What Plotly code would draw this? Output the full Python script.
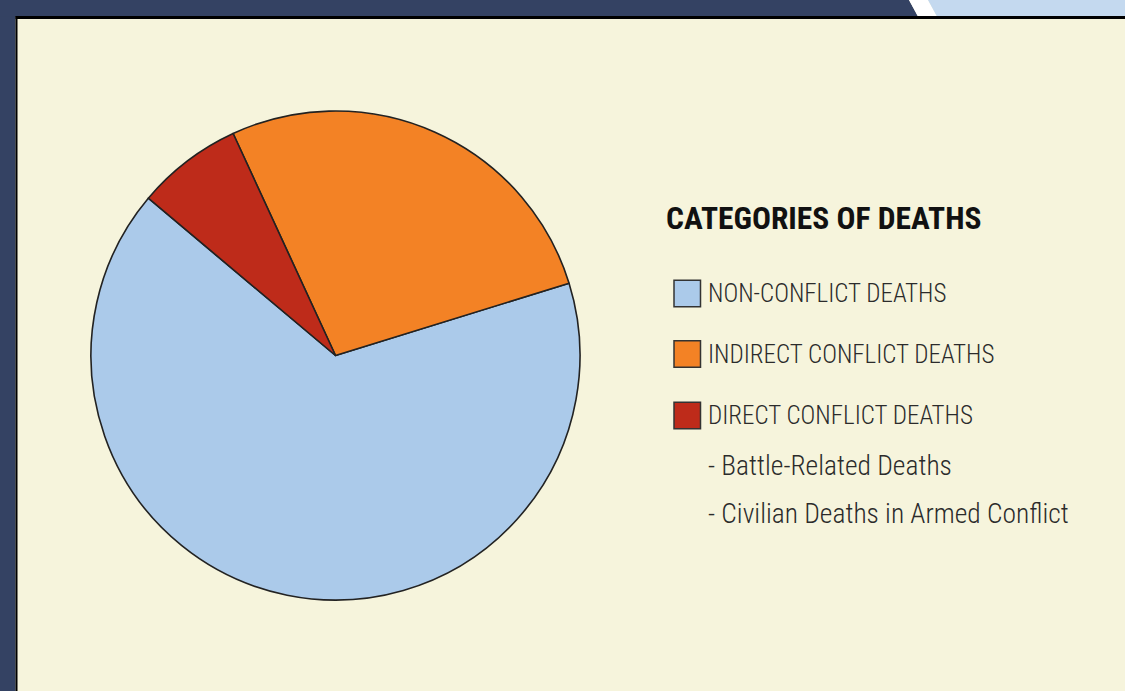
import plotly.graph_objects as go

# ---- data ----
categories = ["NON-CONFLICT DEATHS", "INDIRECT CONFLICT DEATHS", "DIRECT CONFLICT DEATHS"]
shares = [65.9, 27.1, 7.0]
colors = ["#ABCAEA", "#F38225", "#BE2B1A"]
legend_title = "CATEGORIES OF DEATHS"
sub_items = ["- Battle-Related Deaths", "- Civilian Deaths in Armed Conflict"]

W, H = 1125, 691
CREAM = "#F6F4DC"
NAVY = "#344263"
LIGHTBLUE = "#C4D9EF"
FONT = "Roboto Condensed, Liberation Sans Narrow, Roboto, sans-serif"


def px(x):
    return x / W


def py(y):
    return 1 - y / H


fig = go.Figure()
fig.add_trace(go.Pie(
    labels=categories,
    values=shares,
    marker=dict(colors=colors, line=dict(color="#222222", width=1.6)),
    sort=False,
    direction="counterclockwise",
    rotation=72.8,
    textinfo="none",
    hoverinfo="label+percent",
    showlegend=False,
    domain=dict(x=[px(91), px(580)], y=[py(600), py(111)]),
))

shapes = []
# frame: navy strips
shapes.append(dict(type="rect", xref="paper", yref="paper", x0=0, x1=px(15.5), y0=0, y1=1,
                   fillcolor=NAVY, line_width=0, layer="below"))
shapes.append(dict(type="path", xref="paper", yref="paper",
                   path=f"M 0 1 L {px(909)} 1 L {px(918)} {py(16.5)} L 0 {py(16.5)} Z",
                   fillcolor=NAVY, line_width=0, layer="below"))
shapes.append(dict(type="path", xref="paper", yref="paper",
                   path=f"M {px(909)} 1 L {px(928)} 1 L {px(937)} {py(16.5)} L {px(918)} {py(16.5)} Z",
                   fillcolor="#FFFFFF", line_width=0, layer="below"))
shapes.append(dict(type="path", xref="paper", yref="paper",
                   path=f"M {px(928)} 1 L 1 1 L 1 {py(16.5)} L {px(937)} {py(16.5)} Z",
                   fillcolor=LIGHTBLUE, line_width=0, layer="below"))
# black rules
shapes.append(dict(type="rect", xref="paper", yref="paper", x0=px(15.5), x1=px(17.5), y0=0, y1=py(16),
                   fillcolor="#000000", line_width=0, layer="below"))
shapes.append(dict(type="rect", xref="paper", yref="paper", x0=px(15.5), x1=1, y0=py(19), y1=py(16),
                   fillcolor="#000000", line_width=0, layer="below"))

annotations = []
annotations.append(dict(text=f"<b>{legend_title}</b>", x=px(664), y=py(219), xref="paper", yref="paper",
                        xanchor="left", yanchor="middle", showarrow=False,
                        font=dict(family=FONT, size=31.5, color="#111111")))

item_y = [293.5, 354, 415.5]
for name, col, yy in zip(categories, colors, item_y):
    shapes.append(dict(type="rect", xref="paper", yref="paper",
                       x0=px(674), x1=px(700.5), y0=py(yy + 13.3), y1=py(yy - 13.3),
                       fillcolor=col, line=dict(color="#333333", width=1.5)))
    annotations.append(dict(text=name, x=px(706), y=py(yy), xref="paper", yref="paper",
                            xanchor="left", yanchor="middle", showarrow=False,
                            font=dict(family=FONT, size=25, weight=300, color="#2B2B2B")))

sub_y = [465, 513.5]
for name, yy in zip(sub_items, sub_y):
    annotations.append(dict(text=name, x=px(706), y=py(yy), xref="paper", yref="paper",
                            xanchor="left", yanchor="middle", showarrow=False,
                            font=dict(family=FONT, size=27.5, weight=300, color="#2B2B2B")))

fig.update_layout(
    width=W, height=H,
    margin=dict(l=0, r=0, t=0, b=0, pad=0),
    paper_bgcolor=CREAM,
    plot_bgcolor=CREAM,
    shapes=shapes,
    annotations=annotations,
    showlegend=False,
)

fig.write_html(
    "out.html",
    config={"displayModeBar": False},
    post_script="document.body.style.margin='0px';document.body.style.overflow='hidden';",
)
